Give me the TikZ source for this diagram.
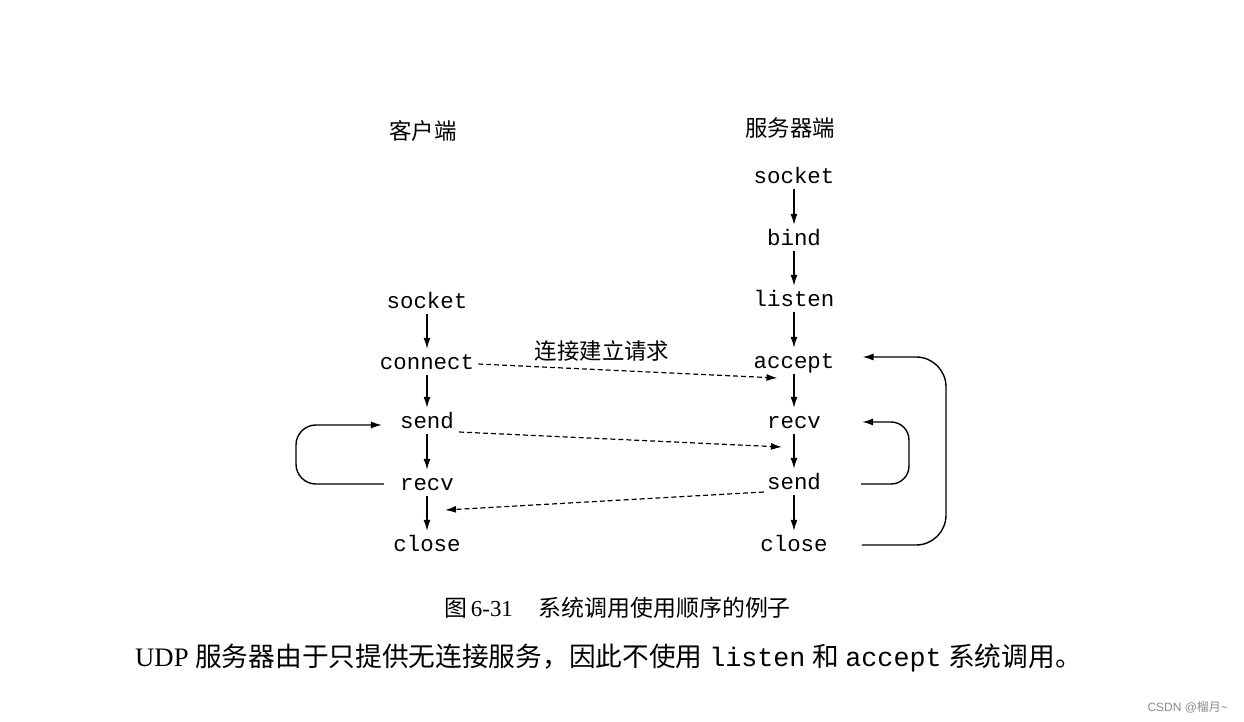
\documentclass[tikz,border=0pt]{standalone}
\usepackage{fontspec}
\setmainfont{Liberation Serif}
\newfontfamily\cjk{Noto Sans CJK SC}
\newfontfamily\mono{Liberation Mono}
\newfontfamily\wm{Liberation Sans}
\usetikzlibrary{arrows.meta,calc}
\begin{document}
\begin{tikzpicture}[x=1bp,y=-1bp,
  code/.style={font=\mono\fontsize{22.5}{24}\selectfont, inner sep=0pt, text height=15pt, text depth=0pt},
  head/.style={font=\cjk\fontsize{22.5}{24}\selectfont, inner sep=0pt},
  flow/.style={-{Latex[length=11pt,width=7pt]}, line width=1.4pt},
  vflow/.style={flow, shorten <=5.5pt, shorten >=5.5pt},
  dflow/.style={flow, line width=1.2pt, dash pattern=on 5pt off 3pt},
  loopflow/.style={flow, line width=1.4pt}
]
\useasboundingbox (0,0) rectangle (1244,722);
\fill[white] (0,0) rectangle (1244,722);

% headers
\node[head] (hc) at (423,131) {客户端};
\node[head] (hs) at (790,128) {服务器端};

% client column
\node[code] (csock) at (427,301) {socket};
\node[code] (cconn) at (427,362) {connect};
\node[code] (csend) at (427,421) {send};
\node[code] (crecv) at (427,483) {recv};
\node[code] (cclose) at (427,544) {close};

% server column
\node[code] (ssock) at (794,176) {socket};
\node[code] (sbind) at (794,238) {bind};
\node[code] (slist) at (794,299) {listen};
\node[code] (sacc) at (794,361) {accept};
\node[code] (srecv) at (794,421) {recv};
\node[code] (ssend) at (794,482) {send};
\node[code] (sclose) at (794,544) {close};

% vertical arrows
\foreach \a/\b in {csock/cconn, cconn/csend, csend/crecv, crecv/cclose,
                   ssock/sbind, sbind/slist, slist/sacc, sacc/srecv, srecv/ssend, ssend/sclose}
  \draw[vflow] (\a.south) -- (\b.north);

% dashed messages
\node[head, anchor=center] (lbl) at (602,351) {连接建立请求};
\draw[dflow] ($(cconn.east)+(4,2)$) -- ($(sacc.west)+(24,17)$);
\draw[dflow] ($(csend.east)+(5,11)$) -- ($(srecv.west)+(15,26)$);
\draw[dflow] ($(ssend.west)+(-3,10)$) -- ($(crecv.east)+(-9,27)$);

% loops
\draw[loopflow, rounded corners=20pt] ($(crecv.west)+(-16,1)$) -- (296,484) -- (296,425) -- ($(csend.west)+(-18,4)$);
\draw[loopflow, rounded corners=18pt] ($(ssend.east)+(40,2)$) -- (909,484) -- (909,422) -- ($(srecv.east)+(41,1)$);
\draw[loopflow, rounded corners=30pt] ($(sclose.east)+(34,1)$) -- (946,545) -- (946,357) -- ($(sacc.east)+(28,-4)$);

% caption
\node[anchor=west, inner sep=0pt, font=\fontsize{23}{25}\selectfont] (cap) at (444,608)
  {{\cjk 图}\,6-31\hspace{26pt}{\cjk 系统调用使用顺序的例子}};

% body text
\node[anchor=west, inner sep=0pt, font=\fontsize{26.8}{29}\selectfont] (body) at (135,658)
  {UDP {\cjk 服务器由于只提供无连接服务，因此不使用} {\mono listen} {\cjk 和} {\mono accept} {\cjk 系统调用。}};

% watermark
\node[anchor=east, inner sep=0pt, text=black!45, font=\wm\fontsize{12}{14}\selectfont] (wmk) at (1228,707)
  {CSDN @{\cjk 榴月}\textasciitilde};
\end{tikzpicture}
\end{document}
